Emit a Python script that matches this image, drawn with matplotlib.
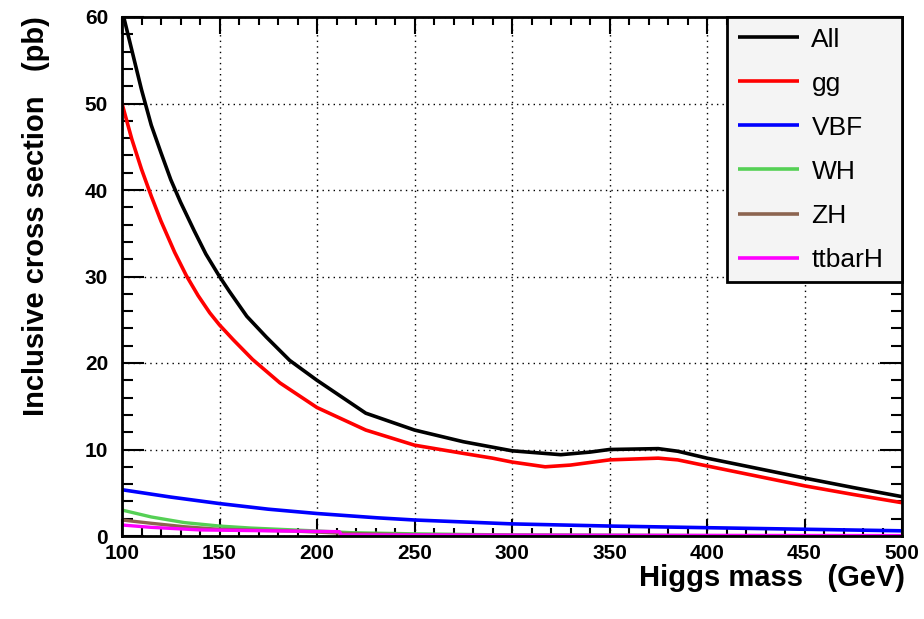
import matplotlib
matplotlib.use("Agg")
import matplotlib.pyplot as plt
from matplotlib.ticker import MultipleLocator

# ---- data ----
m_all = [100, 105, 110, 115, 120, 125, 130, 137, 143, 150, 155, 164, 174, 186, 200,
         225, 250, 275, 300, 325, 340, 350, 375, 385, 400, 425, 450, 475, 500]
xs_all = [60.8, 56.2, 51.6, 47.5, 44.3, 41.2, 38.6, 35.3, 32.6, 30.0, 28.3, 25.4, 23.0, 20.3, 18.0,
          14.2, 12.25, 10.9, 9.85, 9.4, 9.7, 10.0, 10.1, 9.8, 9.0, 7.85, 6.7, 5.6, 4.55]

m_gg = [100, 105, 110, 115, 120, 127, 133, 139, 145, 150, 157, 167, 181, 200, 225, 250, 275, 290,
        300, 317, 330, 350, 375, 385, 400, 425, 450, 475, 500]
xs_gg = [50, 45.9, 42.4, 39.3, 36.4, 32.8, 30.1, 27.8, 25.8, 24.4, 22.7, 20.4, 17.7, 14.85, 12.25,
         10.5, 9.55, 9.0, 8.55, 8.0, 8.2, 8.8, 9.0, 8.8, 8.1, 6.95, 5.8, 4.8, 3.85]

m_vbf = [100, 125, 150, 175, 200, 231, 250, 300, 350, 400, 450, 500]
xs_vbf = [5.35, 4.5, 3.75, 3.1, 2.6, 2.1, 1.85, 1.4, 1.15, 0.96, 0.78, 0.6]

m_wh = [100, 115, 132, 150, 166, 200, 218, 250, 300, 400, 500]
xs_wh = [3.0, 2.2, 1.55, 1.15, 0.92, 0.58, 0.38, 0.25, 0.12, 0.05, 0.02]

m_zh = [100, 115, 132, 150, 187, 200, 215, 250, 300, 400, 500]
xs_zh = [1.85, 1.47, 1.07, 0.77, 0.58, 0.45, 0.3, 0.15, 0.08, 0.04, 0.02]

m_tth = [100, 115, 140, 211.5, 212.5, 300, 400, 500]
xs_tth = [1.27, 1.0, 0.7, 0.5, 0.12, 0.1, 0.07, 0.05]

labels = ["All", "gg", "VBF", "WH", "ZH", "ttbarH"]
colors = ["#000000", "#ff0000", "#0000ff", "#55d055", "#8c6450", "#ff00ff"]

x_ticks = [100, 150, 200, 250, 300, 350, 400, 450, 500]
y_ticks = [0, 10, 20, 30, 40, 50, 60]

plt.rcParams['font.family'] = ['Liberation Sans', 'DejaVu Sans']

fig = plt.figure(figsize=(9.24, 6.19), dpi=100)
ax = fig.add_axes([122/924, 83/619, 780/924, 519/619])

series = [(m_all, xs_all), (m_gg, xs_gg), (m_vbf, xs_vbf), (m_wh, xs_wh),
          (m_zh, xs_zh), (m_tth, xs_tth)]
lws = [2.6, 2.6, 2.6, 2.4, 2.4, 2.4]
handles = []
for i, (mx, yv) in enumerate(series):
    h, = ax.plot(mx, yv, color=colors[i], lw=lws[i], label=labels[i],
                 solid_capstyle='butt', solid_joinstyle='round', zorder=3 + i * 0.1)
    handles.append(h)

ax.set_xlim(100, 500)
ax.set_ylim(0, 60)
ax.set_xticks(x_ticks)
ax.set_yticks(y_ticks)
ax.xaxis.set_minor_locator(MultipleLocator(10))
ax.yaxis.set_minor_locator(MultipleLocator(2))

ax.grid(True, which='major', color='black', linestyle=(0, (1, 3)), lw=1.0)
ax.set_axisbelow(True)

ax.tick_params(which='both', direction='in', top=True, right=True, width=1.5, color='black')
ax.tick_params(axis='x', which='major', length=12, pad=5.5)
ax.tick_params(axis='x', which='minor', length=6)
ax.tick_params(axis='y', which='major', length=16, pad=10)
ax.tick_params(axis='y', which='minor', length=8)
for lab in ax.get_xticklabels() + ax.get_yticklabels():
    lab.set_fontsize(15)
    lab.set_fontweight('bold')

for s in ax.spines.values():
    s.set_linewidth(2)
    s.set_zorder(5)

ax.set_xlabel("Higgs mass   (GeV)", fontsize=21, fontweight='bold', loc='right')
ax.xaxis.set_label_coords((905 - 122) / 780, (536 - 564) / 519)
ax.set_ylabel("Inclusive cross section   (pb)", fontsize=21, fontweight='bold', loc='top')
ax.yaxis.set_label_coords((50 - 122) / 780, 1.002)

leg = ax.legend(handles=handles, loc='upper left',
                bbox_to_anchor=((727 - 122) / 780, 0, (902 - 727) / 780, 1.0),
                mode='expand', borderaxespad=0, fontsize=19, frameon=True, fancybox=False,
                edgecolor='black', facecolor='#f4f4f4', framealpha=1,
                handlelength=2.31, handletextpad=0.49, labelspacing=0.76,
                borderpad=0.4)
leg.get_frame().set_linewidth(2)
leg.set_zorder(6)
for line in leg.get_lines():
    line.set_linewidth(2.6)

fig.savefig("out.png", dpi=100)
